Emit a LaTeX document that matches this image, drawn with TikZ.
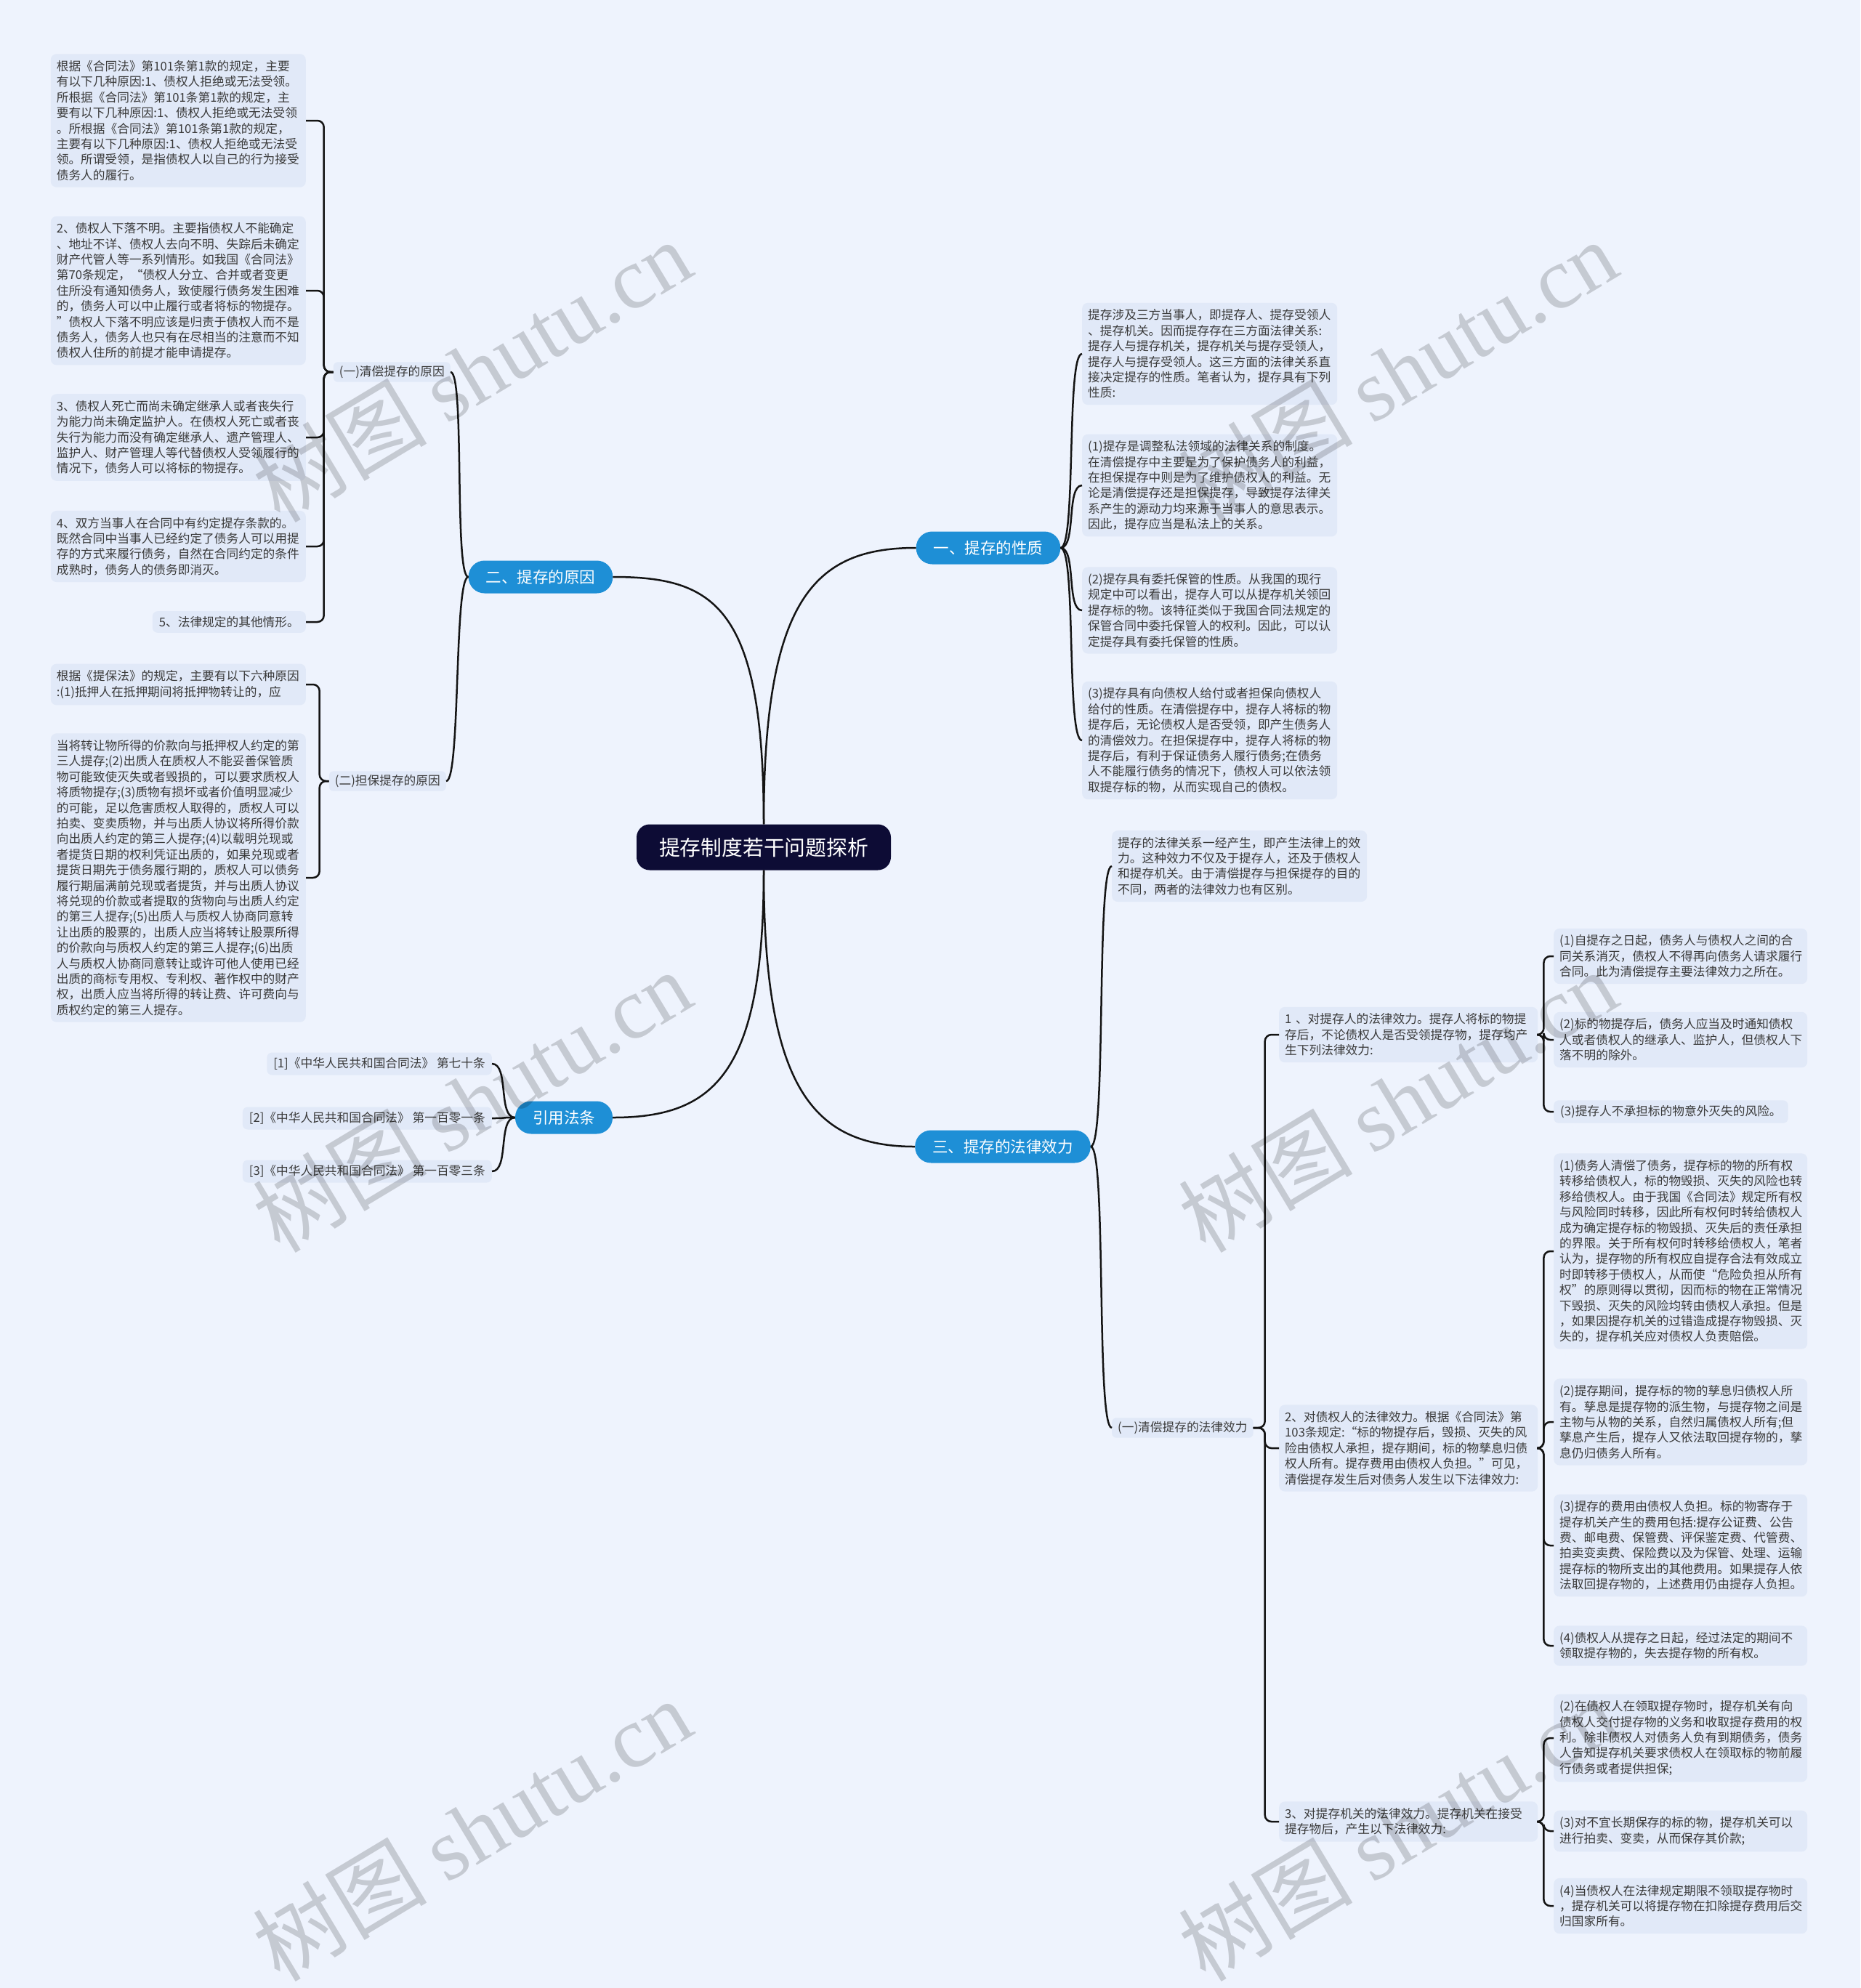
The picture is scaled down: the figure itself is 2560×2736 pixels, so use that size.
\documentclass[tikz,border=0pt]{standalone}
\usepackage{fontspec}
\setmainfont{Noto Sans CJK SC}
\newfontfamily\wmlatin{Liberation Serif}
\definecolor{bg}{HTML}{EEF3FD}
\definecolor{boxc}{HTML}{E1E9F8}
\definecolor{blu}{HTML}{1E8FD6}
\definecolor{navy}{HTML}{0D0C35}
\definecolor{txt}{HTML}{3A3A3A}
\begin{document}
\begin{tikzpicture}[x=1pt,y=-1pt,
  leaf/.style={fill=boxc, rounded corners=8pt, text=txt, font=\fontsize{16.7}{21.4}\selectfont, align=left, text width=#1, inner xsep=8pt, inner ysep=9pt},
  leaf/.default=335pt,
  short/.style={fill=boxc, rounded corners=7pt, text=txt, font=\fontsize{16.7}{21.4}\selectfont, inner xsep=9pt, inner ysep=7pt},
  lab/.style={fill=boxc, rounded corners=6pt, text=txt, font=\fontsize{16.7}{21.4}\selectfont, inner xsep=8pt, inner ysep=5pt},
  mainb/.style={fill=blu, text=white, rounded corners=22pt, font=\fontsize{21.5}{24}\selectfont, inner xsep=24pt, minimum height=45pt},
  rootb/.style={fill=navy, text=white, rounded corners=18pt, font=\fontsize{28.8}{32}\selectfont, inner xsep=31pt, minimum height=63pt},
  conn/.style={line width=2.5pt, draw=black!92},
  brk/.style={conn, rounded corners=9pt},
  wm/.style={text=black, text opacity=0.17, font=\fontsize{120}{120}\selectfont, rotate=31}
]
\fill[bg] (0,0) rectangle (2560,2736);
\useasboundingbox (0,0) rectangle (2560,2736);

% root and main branches
\node[rootb] (root) at (1051,1166) {提存制度若干问题探析};
\node[mainb] (n1) at (1360,754) {一、提存的性质};
\node[mainb] (n2) at (744,794) {二、提存的原因};
\node[mainb] (n3) at (1380,1578) {三、提存的法律效力};
\node[mainb] (n4) at (776,1538) {引用法条};

% left: reasons
\node[lab, anchor=east] (a1) at (620,512) {(一)清偿提存的原因};
\node[lab, anchor=east] (a2) at (614,1075) {(二)担保提存的原因};

\node[leaf, anchor=east] (L1) at (421,166) {根据《合同法》第101条第1款的规定，主要\\
有以下几种原因:1、债权人拒绝或无法受领。\\
所根据《合同法》第101条第1款的规定，主\\
要有以下几种原因:1、债权人拒绝或无法受领\\
。所根据《合同法》第101条第1款的规定，\\
主要有以下几种原因:1、债权人拒绝或无法受\\
领。所谓受领，是指债权人以自己的行为接受\\
债务人的履行。};
\node[leaf, anchor=east] (L2) at (421,400) {2、债权人下落不明。主要指债权人不能确定\\
、地址不详、债权人去向不明、失踪后未确定\\
财产代管人等一系列情形。如我国《合同法》\\
第70条规定，“债权人分立、合并或者变更\\
住所没有通知债务人，致使履行债务发生困难\\
的，债务人可以中止履行或者将标的物提存。\\
”债权人下落不明应该是归责于债权人而不是\\
债务人，债务人也只有在尽相当的注意而不知\\
债权人住所的前提才能申请提存。};
\node[leaf, anchor=east] (L3) at (421,602) {3、债权人死亡而尚未确定继承人或者丧失行\\
为能力尚未确定监护人。在债权人死亡或者丧\\
失行为能力而没有确定继承人、遗产管理人、\\
监护人、财产管理人等代替债权人受领履行的\\
情况下，债务人可以将标的物提存。};
\node[leaf, anchor=east] (L4) at (421,752) {4、双方当事人在合同中有约定提存条款的。\\
既然合同中当事人已经约定了债务人可以用提\\
存的方式来履行债务，自然在合同约定的条件\\
成熟时，债务人的债务即消灭。};
\node[short, anchor=east] (L5) at (421,856) {5、法律规定的其他情形。};
\node[leaf, anchor=east] (L6) at (421,942) {根据《提保法》的规定，主要有以下六种原因\\
:(1)抵押人在抵押期间将抵押物转让的，应};
\node[leaf, anchor=east] (L7) at (421,1208) {当将转让物所得的价款向与抵押权人约定的第\\
三人提存;(2)出质人在质权人不能妥善保管质\\
物可能致使灭失或者毁损的，可以要求质权人\\
将质物提存;(3)质物有损坏或者价值明显减少\\
的可能，足以危害质权人取得的，质权人可以\\
拍卖、变卖质物，并与出质人协议将所得价款\\
向出质人约定的第三人提存;(4)以载明兑现或\\
者提货日期的权利凭证出质的，如果兑现或者\\
提货日期先于债务履行期的，质权人可以债务\\
履行期届满前兑现或者提货，并与出质人协议\\
将兑现的价款或者提取的货物向与出质人约定\\
的第三人提存;(5)出质人与质权人协商同意转\\
让出质的股票的，出质人应当将转让股票所得\\
的价款向与质权人约定的第三人提存;(6)出质\\
人与质权人协商同意转让或许可他人使用已经\\
出质的商标专用权、专利权、著作权中的财产\\
权，出质人应当将所得的转让费、许可费向与\\
质权约定的第三人提存。};

% citations
\node[short, anchor=east] (C1) at (677,1464) {[1]《中华人民共和国合同法》 第七十条};
\node[short, anchor=east] (C2) at (677,1539) {[2]《中华人民共和国合同法》 第一百零一条};
\node[short, anchor=east] (C3) at (677,1612) {[3]《中华人民共和国合同法》 第一百零三条};

% right: nature
\node[leaf, anchor=west] (R1) at (1489,487) {提存涉及三方当事人，即提存人、提存受领人\\
、提存机关。因而提存存在三方面法律关系:\\
提存人与提存机关，提存机关与提存受领人，\\
提存人与提存受领人。这三方面的法律关系直\\
接决定提存的性质。笔者认为，提存具有下列\\
性质:};
\node[leaf, anchor=west] (R2) at (1489,668) {(1)提存是调整私法领域的法律关系的制度。\\
在清偿提存中主要是为了保护债务人的利益，\\
在担保提存中则是为了维护债权人的利益。无\\
论是清偿提存还是担保提存，导致提存法律关\\
系产生的源动力均来源于当事人的意思表示。\\
因此，提存应当是私法上的关系。};
\node[leaf, anchor=west] (R3) at (1489,840) {(2)提存具有委托保管的性质。从我国的现行\\
规定中可以看出，提存人可以从提存机关领回\\
提存标的物。该特征类似于我国合同法规定的\\
保管合同中委托保管人的权利。因此，可以认\\
定提存具有委托保管的性质。};
\node[leaf, anchor=west] (R4) at (1489,1019) {(3)提存具有向债权人给付或者担保向债权人\\
给付的性质。在清偿提存中，提存人将标的物\\
提存后，无论债权人是否受领，即产生债务人\\
的清偿效力。在担保提存中，提存人将标的物\\
提存后，有利于保证债务人履行债务;在债务\\
人不能履行债务的情况下，债权人可以依法领\\
取提存标的物，从而实现自己的债权。};

% right: effect
\node[leaf, anchor=west] (R5) at (1530,1192) {提存的法律关系一经产生，即产生法律上的效\\
力。这种效力不仅及于提存人，还及于债权人\\
和提存机关。由于清偿提存与担保提存的目的\\
不同，两者的法律效力也有区别。};
\node[lab, anchor=west] (b1) at (1530,1965) {(一)清偿提存的法律效力};

\node[leaf=340pt, anchor=west] (s1) at (1760,1424) {1 、对提存人的法律效力。提存人将标的物提\\
存后，不论债权人是否受领提存物，提存均产\\
生下列法律效力:};
\node[leaf=340pt, anchor=west] (s2) at (1760,1993) {2、对债权人的法律效力。根据《合同法》第\\
103条规定:“标的物提存后，毁损、灭失的风\\
险由债权人承担，提存期间，标的物孳息归债\\
权人所有。提存费用由债权人负担。”可见，\\
清偿提存发生后对债务人发生以下法律效力:};
\node[leaf=340pt, anchor=west] (s3) at (1760,2507) {3、对提存机关的法律效力。提存机关在接受\\
提存物后，产生以下法律效力:};

\node[leaf=333pt, anchor=west] (t11) at (2138,1316) {(1)自提存之日起，债务人与债权人之间的合\\
同关系消灭，债权人不得再向债务人请求履行\\
合同。此为清偿提存主要法律效力之所在。};
\node[leaf=333pt, anchor=west] (t12) at (2138,1431) {(2)标的物提存后，债务人应当及时通知债权\\
人或者债权人的继承人、监护人，但债权人下\\
落不明的除外。};
\node[short, anchor=west] (t13) at (2138,1530) {(3)提存人不承担标的物意外灭失的风险。};

\node[leaf=333pt, anchor=west] (t21) at (2138,1722) {(1)债务人清偿了债务，提存标的物的所有权\\
转移给债权人，标的物毁损、灭失的风险也转\\
移给债权人。由于我国《合同法》规定所有权\\
与风险同时转移，因此所有权何时转给债权人\\
成为确定提存标的物毁损、灭失后的责任承担\\
的界限。关于所有权何时转移给债权人，笔者\\
认为，提存物的所有权应自提存合法有效成立\\
时即转移于债权人，从而使“危险负担从所有\\
权”的原则得以贯彻，因而标的物在正常情况\\
下毁损、灭失的风险均转由债权人承担。但是\\
，如果因提存机关的过错造成提存物毁损、灭\\
失的，提存机关应对债权人负责赔偿。};
\node[leaf=333pt, anchor=west] (t22) at (2138,1957) {(2)提存期间，提存标的物的孳息归债权人所\\
有。孳息是提存物的派生物，与提存物之间是\\
主物与从物的关系，自然归属债权人所有;但\\
孳息产生后，提存人又依法取回提存物的，孳\\
息仍归债务人所有。};
\node[leaf=333pt, anchor=west] (t23) at (2138,2127) {(3)提存的费用由债权人负担。标的物寄存于\\
提存机关产生的费用包括:提存公证费、公告\\
费、邮电费、保管费、评保鉴定费、代管费、\\
拍卖变卖费、保险费以及为保管、处理、运输\\
提存标的物所支出的其他费用。如果提存人依\\
法取回提存物的，上述费用仍由提存人负担。};
\node[leaf=333pt, anchor=west] (t24) at (2138,2265) {(4)债权人从提存之日起，经过法定的期间不\\
领取提存物的，失去提存物的所有权。};

\node[leaf=333pt, anchor=west] (t32) at (2138,2392) {(2)在债权人在领取提存物时，提存机关有向\\
债权人交付提存物的义务和收取提存费用的权\\
利。除非债权人对债务人负有到期债务，债务\\
人告知提存机关要求债权人在领取标的物前履\\
行债务或者提供担保;};
\node[leaf=333pt, anchor=west] (t33) at (2138,2520) {(3)对不宜长期保存的标的物，提存机关可以\\
进行拍卖、变卖，从而保存其价款;};
\node[leaf=333pt, anchor=west] (t34) at (2138,2623) {(4)当债权人在法律规定期限不领取提存物时\\
，提存机关可以将提存物在扣除提存费用后交\\
归国家所有。};

% connectors: root to main
\draw[conn] (root.north) .. controls +(0,-310) and +(-140,0) .. (n1.west);
\draw[conn] (root.north) .. controls +(0,-300) and +(140,0) .. (n2.east);
\draw[conn] (root.south) .. controls +(0,300) and +(-140,0) .. (n3.west);
\draw[conn] (root.south) .. controls +(0,280) and +(140,0) .. (n4.east);

% main to second level
\foreach \c in {R1,R2,R3,R4}
  \draw[conn] (n1.east) .. controls +(22,0) and +(-22,0) .. (\c.west);
\foreach \c in {a1,a2}
  \draw[conn] (n2.west) .. controls +(-20,0) and +(20,0) .. (\c.east);
\foreach \c in {R5,b1}
  \draw[conn] (n3.east) .. controls +(22,0) and +(-22,0) .. (\c.west);
\foreach \c in {C1,C2,C3}
  \draw[conn] (n4.west) .. controls +(-24,0) and +(24,0) .. (\c.east);

% brackets
\foreach \c in {L1,L2,L3,L4,L5}
  \draw[brk] (a1.west) -- ++(-13,0) |- (\c.east);
\foreach \c in {L6,L7}
  \draw[brk] (a2.west) -- ++(-13,0) |- (\c.east);
\foreach \c in {s1,s2,s3}
  \draw[brk] (b1.east) -- ++(16,0) |- (\c.west);
\foreach \c in {t11,t12,t13}
  \draw[brk] (s1.east) -- ++(8,0) |- (\c.west);
\foreach \c in {t21,t22,t23,t24}
  \draw[brk] (s2.east) -- ++(8,0) |- (\c.west);
\foreach \c in {t32,t33,t34}
  \draw[brk] (s3.east) -- ++(8,0) |- (\c.west);

% watermarks
\node[wm] (w1) at (649,510) {树图 {\wmlatin shutu.cn}};
\node[wm] (w2) at (1923,510) {树图 {\wmlatin shutu.cn}};
\node[wm] (w3) at (649,1515) {树图 {\wmlatin shutu.cn}};
\node[wm] (w4) at (1923,1515) {树图 {\wmlatin shutu.cn}};
\node[wm] (w5) at (649,2518) {树图 {\wmlatin shutu.cn}};
\node[wm] (w6) at (1923,2518) {树图 {\wmlatin shutu.cn}};
\end{tikzpicture}
\end{document}
